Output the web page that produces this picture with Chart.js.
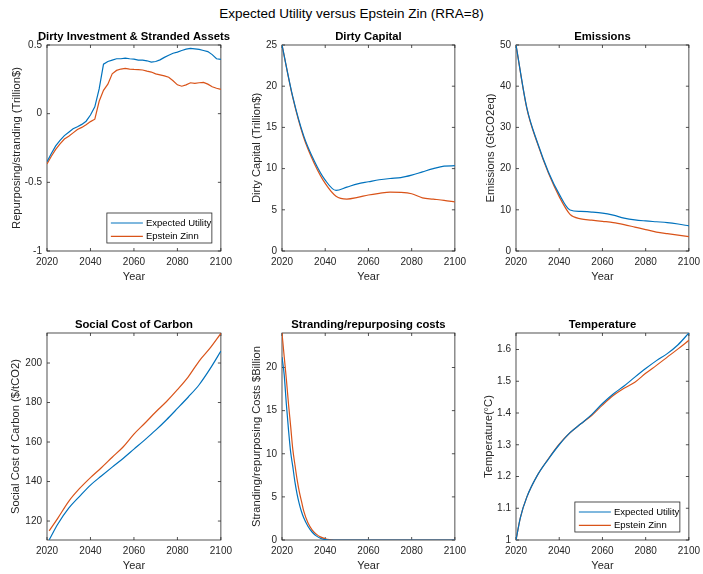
<!DOCTYPE html>
<html>
<head>
<meta charset="utf-8">
<script src="https://cdn.jsdelivr.net/npm/chart.js@4.4.1/dist/chart.umd.min.js"></script>
<style>
  body { margin: 0; background: #fff; width: 703px; height: 574px; position: relative; overflow: hidden;
         font-family: "Liberation Sans", Arial, Helvetica, sans-serif; }
  #title { position: absolute; left: 0; top: 6px; width: 703px; text-align: center;
           font-size: 13.5px; line-height: 16px; color: #000; }
  canvas { position: absolute; }
</style>
</head>
<body>
<div id="title">Expected Utility versus Epstein Zin (RRA=8)</div>
<script>
const seriesNames = ['Expected Utility', 'Epstein Zinn'];
const xTicks = [2020, 2040, 2060, 2080, 2100];

// Dirty Investment & Stranded Assets, every 2 years
const investYears = [2020, 2022, 2024, 2026, 2028, 2030, 2032, 2034, 2036, 2038, 2040, 2042, 2044, 2046, 2048,
  2050, 2052, 2054, 2056, 2058, 2060, 2062, 2064, 2066, 2068, 2070, 2072, 2074, 2076, 2078, 2080, 2082, 2084,
  2086, 2088, 2090, 2092, 2094, 2096, 2098, 2100];
const investEU = [-0.35, -0.29, -0.235, -0.195, -0.16, -0.135, -0.11, -0.095, -0.078, -0.055, -0.01, 0.05, 0.18,
  0.36, 0.38, 0.39, 0.40, 0.40, 0.405, 0.40, 0.397, 0.39, 0.39, 0.385, 0.375, 0.38, 0.392, 0.41, 0.425, 0.44,
  0.448, 0.46, 0.47, 0.475, 0.472, 0.468, 0.46, 0.452, 0.43, 0.40, 0.395];
const investEZ = [-0.367, -0.31, -0.26, -0.22, -0.185, -0.165, -0.14, -0.115, -0.10, -0.08, -0.058, -0.04, 0.09,
  0.17, 0.215, 0.29, 0.315, 0.325, 0.33, 0.325, 0.322, 0.32, 0.318, 0.31, 0.303, 0.29, 0.283, 0.275, 0.265, 0.24,
  0.21, 0.2, 0.21, 0.225, 0.22, 0.225, 0.228, 0.215, 0.196, 0.185, 0.177];
const investTicks = [-1, -0.5, 0, 0.5];

// Dirty Capital and Emissions, every 5 years
const years5 = [2020, 2025, 2030, 2035, 2040, 2045, 2050, 2055, 2060, 2065, 2070, 2075, 2080, 2085, 2090, 2095, 2100];
const capitalEU = [25, 18.7, 14.0, 10.9, 8.6, 7.35, 7.75, 8.15, 8.4, 8.65, 8.8, 8.9, 9.2, 9.6, 10.0, 10.3, 10.35];
const capitalEZ = [25, 18.6, 13.8, 10.6, 8.2, 6.65, 6.3, 6.5, 6.8, 7.0, 7.15, 7.12, 6.95, 6.45, 6.3, 6.15, 5.95];
const capitalTicks = [0, 5, 10, 15, 20, 25];

const emissionsEU = [50, 34.8, 26.2, 19.2, 13.8, 9.95, 9.6, 9.45, 9.2, 8.7, 8.0, 7.55, 7.3, 7.1, 6.9, 6.55, 6.1];
const emissionsEZ = [50, 34.6, 26.0, 18.9, 13.2, 8.9, 7.8, 7.5, 7.2, 6.9, 6.4, 5.8, 5.2, 4.6, 4.2, 3.85, 3.5];
const emissionsTicks = [0, 10, 20, 30, 40, 50];

// Social Cost of Carbon, starts 2021
const sccYears = [2021, 2025, 2030, 2035, 2040, 2045, 2050, 2055, 2060, 2065, 2070, 2075, 2080, 2085, 2090, 2095, 2100];
const sccEU = [110.5, 118.5, 126.5, 132.5, 138.2, 142.8, 147.3, 151.7, 156.4, 161.1, 166.0, 171.3, 177.0, 182.8, 189.0, 197.0, 206.0];
const sccEZ = [115, 121.5, 130, 136.5, 142, 147, 152.3, 157.5, 164, 169.5, 175.2, 180.5, 186.5, 193, 201, 207.5, 215];
const sccTicks = [120, 140, 160, 180, 200];

// Stranding/repurposing costs
const costYears = [2020, 2021, 2022, 2023, 2024, 2025, 2026, 2027, 2028, 2029, 2030, 2032, 2034, 2036, 2038, 2040,
  2042, 2044, 2050, 2060, 2070, 2080, 2090, 2100];
const costEU = [21.2, 19.2, 15.8, 12.8, 10.2, 8.5, 6.7, 5.3, 4.2, 3.3, 2.6, 1.6, 0.9, 0.45, 0.18, 0.04,
  0, 0, 0, 0, 0, 0, 0, 0];
const costEZ = [24, 21.3, 18.7, 15.8, 13.2, 10.5, 8.7, 7.0, 5.6, 4.5, 3.4, 2.0, 1.15, 0.65, 0.33, 0.14,
  0.04, 0, 0, 0, 0, 0, 0, 0];
const costTicks = [0, 5, 10, 15, 20];

// Temperature
const tempYears = [2020, 2022, 2025, 2030, 2035, 2040, 2045, 2050, 2055, 2060, 2065, 2070, 2075, 2080, 2085, 2090, 2095, 2100];
const tempEU = [1.0, 1.07, 1.135, 1.205, 1.255, 1.30, 1.338, 1.366, 1.395, 1.43, 1.46, 1.485, 1.513, 1.54, 1.565, 1.587, 1.615, 1.652];
const tempEZ = [1.0, 1.07, 1.135, 1.205, 1.256, 1.302, 1.338, 1.366, 1.392, 1.425, 1.455, 1.478, 1.497, 1.525, 1.55, 1.576, 1.602, 1.629];
const tempTicks = [1, 1.1, 1.2, 1.3, 1.4, 1.5, 1.6];

Chart.defaults.font.family = '"Liberation Sans", Arial, Helvetica, sans-serif';
const colors = ['#0072BD', '#D95319'];
const axisColor = '#262626';

// box round the axes with inward ticks on all four sides
const matlabBox = {
  id: 'matlabBox',
  beforeDatasetsDraw(chart) {
    const { ctx, chartArea: a, scales: { x, y } } = chart;
    ctx.save();
    ctx.strokeStyle = axisColor;
    ctx.lineWidth = 0.8;
    ctx.strokeRect(a.left, a.top, a.width, a.height);
    ctx.beginPath();
    x.ticks.forEach(t => {
      const px = x.getPixelForValue(t.value);
      ctx.moveTo(px, a.bottom); ctx.lineTo(px, a.bottom - 3);
      ctx.moveTo(px, a.top); ctx.lineTo(px, a.top + 3);
    });
    y.ticks.forEach(t => {
      const py = y.getPixelForValue(t.value);
      ctx.moveTo(a.left, py); ctx.lineTo(a.left + 3, py);
      ctx.moveTo(a.right, py); ctx.lineTo(a.right - 3, py);
    });
    ctx.stroke();
    ctx.restore();
  }
};

// axes title centred over the plot box (may run wider than the box)
const axesTitle = {
  id: 'axesTitle',
  afterDraw(chart, args, opts) {
    const { ctx, chartArea: a } = chart;
    ctx.save();
    ctx.font = 'bold 11.3px "Liberation Sans", Arial, sans-serif';
    ctx.fillStyle = '#000';
    ctx.textAlign = 'center';
    ctx.textBaseline = 'middle';
    ctx.fillText(opts.text, (a.left + a.right) / 2, a.top - 8.5);
    ctx.restore();
  }
};

// legend box in the lower right corner of the axes
const boxLegend = {
  id: 'boxLegend',
  afterDatasetsDraw(chart, args, opts) {
    if (!opts.show) return;
    const { ctx, chartArea: a } = chart;
    const w = 105, h = 30;
    const x = a.right - 9 - w, y = a.bottom - 8 - h;
    ctx.save();
    ctx.fillStyle = '#fff';
    ctx.fillRect(x, y, w, h);
    ctx.strokeStyle = axisColor;
    ctx.lineWidth = 0.8;
    ctx.strokeRect(x, y, w, h);
    ctx.font = '9.5px "Liberation Sans", Arial, sans-serif';
    ctx.textBaseline = 'middle';
    chart.data.datasets.forEach((ds, i) => {
      const cy = y + 10 + i * 13.3;
      ctx.strokeStyle = ds.borderColor;
      ctx.lineWidth = 1.2;
      ctx.beginPath();
      ctx.moveTo(x + 4, cy); ctx.lineTo(x + 36, cy);
      ctx.stroke();
      ctx.fillStyle = '#000';
      ctx.fillText(ds.label, x + 39, cy + 0.5);
    });
    ctx.restore();
  }
};

function panel(o) {
  const T = 20, H = 32, PR = 14;
  const [l, r] = o.col, [t, b] = o.row;
  const cv = document.createElement('canvas');
  cv.width = o.yw + (r - l) + PR;
  cv.height = T + (b - t) + H;
  cv.style.left = (l - o.yw) + 'px';
  cv.style.top = (t - T) + 'px';
  document.body.appendChild(cv);

  new Chart(cv, {
    type: 'line',
    data: {
      datasets: o.series.map((ys, i) => ({
        label: seriesNames[i],
        data: o.years.map((yr, k) => ({ x: yr, y: ys[k] })),
        borderColor: colors[i],
        borderWidth: 1.2,
        pointRadius: 0,
        fill: false,
        cubicInterpolationMode: o.smooth ? 'monotone' : 'default',
        tension: 0
      }))
    },
    options: {
      responsive: false,
      animation: false,
      events: [],
      layout: { padding: { left: 0, right: PR, top: T, bottom: 0 } },
      plugins: {
        legend: { display: false },
        tooltip: { enabled: false },
        title: { display: false },
        axesTitle: { text: o.title },
        boxLegend: { show: !!o.legend }
      },
      scales: {
        x: {
          type: 'linear', min: 2020, max: 2100,
          afterBuildTicks: s => { s.ticks = xTicks.map(v => ({ value: v })); },
          afterFit: s => { s.height = H; },
          grid: { display: false, drawTicks: false },
          border: { display: false },
          ticks: { padding: 5, color: axisColor, font: { size: 10 }, maxRotation: 0, autoSkip: false,
                   callback: v => String(v) },
          title: { display: true, text: 'Year', color: axisColor,
                   font: { size: 11, lineHeight: '13px' }, padding: 0 }
        },
        y: {
          type: 'linear', min: o.yMin, max: o.yMax,
          afterBuildTicks: s => { s.ticks = o.yTicks.map(v => ({ value: v })); },
          afterFit: s => { s.width = o.yw; },
          grid: { display: false, drawTicks: false },
          border: { display: false },
          ticks: { padding: 5, color: axisColor, font: { size: 10 }, autoSkip: false,
                   callback: v => String(v) },
          title: { display: true, text: o.yTitle, color: axisColor,
                   font: { size: 11.2, lineHeight: '12px' }, padding: 0 }
        }
      }
    },
    plugins: [matlabBox, axesTitle, boxLegend]
  });
}

const COLS = [[47, 223], [282, 457], [516, 691]];
const ROWS = [[45, 251], [333, 540]];

panel({ col: COLS[0], row: ROWS[0], yw: 36, title: 'Dirty Investment & Stranded Assets',
  yTitle: 'Repurposing/stranding (Trillion$)', years: investYears, series: [investEU, investEZ],
  yMin: -1, yMax: 0.5, yTicks: investTicks, smooth: false, legend: true });
panel({ col: COLS[1], row: ROWS[0], yw: 31, title: 'Dirty Capital',
  yTitle: 'Dirty Capital (Trillion$)', years: years5, series: [capitalEU, capitalEZ],
  yMin: 0, yMax: 25, yTicks: capitalTicks, smooth: true });
panel({ col: COLS[2], row: ROWS[0], yw: 31, title: 'Emissions',
  yTitle: 'Emissions (GtCO2eq)', years: years5, series: [emissionsEU, emissionsEZ],
  yMin: 0, yMax: 50, yTicks: emissionsTicks, smooth: true });
panel({ col: COLS[0], row: ROWS[1], yw: 37, title: 'Social Cost of Carbon',
  yTitle: 'Social Cost of Carbon ($/tCO2)', years: sccYears, series: [sccEU, sccEZ],
  yMin: 110.4, yMax: 215.2, yTicks: sccTicks, smooth: true });
panel({ col: COLS[1], row: ROWS[1], yw: 31, title: 'Stranding/repurposing costs',
  yTitle: 'Stranding/repurposing Costs $Billion', years: costYears, series: [costEU, costEZ],
  yMin: 0, yMax: 24, yTicks: costTicks, smooth: true });
panel({ col: COLS[2], row: ROWS[1], yw: 33, title: 'Temperature',
  yTitle: 'Temperature(\u00B0C)', years: tempYears, series: [tempEU, tempEZ],
  yMin: 1, yMax: 1.652, yTicks: tempTicks, smooth: true, legend: true });
</script>
</body>
</html>
